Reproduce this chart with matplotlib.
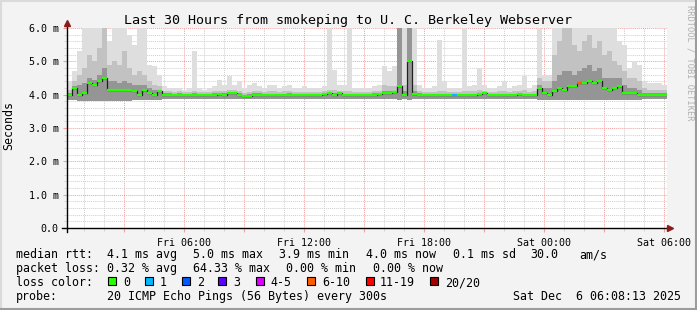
import numpy as np
import matplotlib
matplotlib.use('Agg')
import matplotlib.pyplot as plt
from matplotlib.lines import Line2D
from matplotlib.patches import Rectangle

# time axis: hours since Fri 00:00, one bin = 15 min, start Fri 00:08:13
start_h = 0.137
step_h = 0.25

# median rtt (ms) per bin
median = [3.98, 4.2, 4.0, 4.05, 4.35, 4.3, 4.4, 4.5, 4.15, 4.15, 4.15, 4.15, 4.15, 4.1, 4.0, 4.15, 4.05, 4.0, 4.1, 4.0,
          4.0, 3.98, 4.0, 4.0, 3.98, 4.0, 4.0, 3.98, 4.0, 4.0, 4.02, 4.0, 4.05, 4.05, 4.0, 3.97, 3.97, 4.0, 4.0, 4.0,
          3.98, 4.0, 3.98, 4.0, 4.0, 3.98, 4.0, 4.0, 3.98, 4.0, 4.0, 4.02, 4.05, 4.0, 4.05, 3.98, 4.0, 3.98, 3.98, 4.0,
          3.98, 4.0, 4.02, 4.05, 4.05, 4.08, 4.25, 4.0, 5.0, 4.02, 4.0, 4.0, 3.98, 3.98, 4.0, 4.0, 3.98, 4.0, 3.98, 4.0,
          4.0, 3.98, 4.02, 4.05, 4.0, 3.98, 4.0, 4.0, 3.98, 4.0, 4.02, 4.0, 3.98, 4.0, 4.2, 4.05, 4.0, 4.1, 4.2, 4.15,
          4.25, 4.25, 4.35, 4.35, 4.4, 4.35, 4.4, 4.2, 4.15, 4.2, 4.25, 4.05, 4.05, 4.05, 4.0, 3.98, 4.0, 3.98, 3.98, 3.98]

# smoke: slowest ping, ~90th, ~70th percentile and fastest ping (ms)
smoke_max = [4.4, 4.7, 5.3, 6.0, 6.0, 6.0, 6.0, 6.0, 5.6, 6.0, 6.0, 6.0, 5.8, 5.5, 6.0, 6.0, 4.9, 4.85, 4.6, 4.25,
             4.2, 4.2, 4.2, 4.15, 4.2, 5.3, 4.2, 4.15, 4.2, 4.25, 4.45, 4.3, 4.55, 4.3, 4.4, 4.2, 4.3, 4.35, 4.25, 4.2,
             4.3, 4.3, 4.2, 4.25, 4.3, 4.2, 4.2, 4.25, 4.2, 4.2, 4.2, 4.25, 6.0, 4.75, 4.3, 4.3, 6.0, 4.2, 4.2, 4.2,
             4.2, 4.25, 4.3, 4.85, 4.7, 4.85, 6.0, 6.0, 6.0, 6.0, 4.3, 4.2, 4.2, 4.25, 5.65, 4.4, 4.2, 4.2, 4.2, 6.0,
             4.25, 4.3, 4.8, 4.3, 4.2, 4.2, 4.25, 4.4, 4.2, 4.25, 4.3, 4.55, 4.2, 4.3, 6.0, 4.6, 4.6, 6.0, 6.0, 6.0,
             6.0, 6.0, 6.0, 6.0, 6.0, 6.0, 6.0, 6.0, 6.0, 6.0, 5.6, 5.5, 4.8, 5.0, 4.9, 4.4, 4.35, 4.35, 4.35, 4.3]
smoke_hi = [4.15, 4.4, 4.6, 4.8, 5.2, 5.0, 5.4, 6.0, 4.9, 5.0, 4.9, 5.3, 4.8, 4.6, 4.7, 4.6, 4.4, 4.3, 4.25, 4.1,
            4.1, 4.08, 4.1, 4.08, 4.08, 4.1, 4.08, 4.07, 4.08, 4.1, 4.12, 4.1, 4.15, 4.15, 4.1, 4.05, 4.08, 4.1, 4.1, 4.08,
            4.1, 4.1, 4.08, 4.1, 4.1, 4.08, 4.08, 4.08, 4.08, 4.07, 4.08, 4.1, 4.15, 4.15, 4.12, 4.1, 4.1, 4.08, 4.08, 4.08,
            4.08, 4.1, 4.12, 4.3, 4.25, 4.25, 6.0, 4.3, 6.0, 4.3, 4.12, 4.08, 4.08, 4.08, 4.1, 4.1, 4.08, 4.08, 4.08, 4.1,
            4.1, 4.1, 4.15, 4.12, 4.08, 4.08, 4.1, 4.12, 4.08, 4.1, 4.12, 4.15, 4.08, 4.1, 4.5, 4.4, 4.4, 5.2, 5.6, 6.0,
            6.0, 5.5, 5.3, 5.6, 5.8, 5.4, 5.6, 5.2, 5.3, 5.0, 4.9, 4.7, 4.5, 4.5, 4.4, 4.2, 4.15, 4.15, 4.15, 4.15]
smoke_mid = [4.05, 4.25, 4.3, 4.35, 4.5, 4.45, 4.6, 4.8, 4.4, 4.4, 4.35, 4.4, 4.35, 4.3, 4.3, 4.3, 4.2, 4.15, 4.15, 4.05,
             4.05, 4.03, 4.05, 4.03, 4.03, 4.05, 4.03, 4.02, 4.03, 4.05, 4.05, 4.05, 4.08, 4.08, 4.05, 4.0, 4.02, 4.05, 4.04, 4.03,
             4.03, 4.03, 4.03, 4.03, 4.04, 4.03, 4.03, 4.03, 4.03, 4.02, 4.03, 4.05, 4.08, 4.05, 4.07, 4.03, 4.03, 4.02, 4.02, 4.03,
             4.03, 4.04, 4.05, 4.1, 4.1, 4.12, 6.0, 4.1, 6.0, 4.1, 4.05, 4.03, 4.03, 4.03, 4.03, 4.03, 4.02, 4.03, 4.02, 4.03,
             4.03, 4.03, 4.05, 4.07, 4.03, 4.02, 4.03, 4.03, 4.02, 4.03, 4.05, 4.03, 4.02, 4.03, 4.3, 4.2, 4.2, 4.4, 4.6, 4.7,
             4.7, 4.6, 4.7, 4.8, 4.9, 4.7, 4.8, 4.5, 4.5, 4.5, 4.5, 4.3, 4.2, 4.2, 4.15, 4.05, 4.05, 4.05, 4.05, 4.05]
smoke_min = [3.85, 3.85, 3.82, 3.82, 3.82, 3.82, 3.8, 3.8, 3.82, 3.82, 3.82, 3.82, 3.82, 3.85, 3.85, 3.85, 3.85, 3.85, 3.85, 3.87,
             3.88, 3.88, 3.88, 3.87, 3.88, 3.88, 3.88, 3.87, 3.88, 3.88, 3.87, 3.88, 3.88, 3.87, 3.88, 3.87, 3.87, 3.88, 3.88, 3.88,
             3.88, 3.88, 3.87, 3.88, 3.88, 3.87, 3.88, 3.88, 3.87, 3.88, 3.88, 3.88, 3.87, 3.88, 3.88, 3.87, 3.88, 3.87, 3.87, 3.88,
             3.87, 3.88, 3.88, 3.86, 3.86, 3.86, 3.85, 3.86, 3.85, 3.87, 3.88, 3.88, 3.87, 3.87, 3.88, 3.88, 3.87, 3.88, 3.87, 3.88,
             3.88, 3.87, 3.87, 3.87, 3.88, 3.87, 3.88, 3.88, 3.87, 3.88, 3.88, 3.87, 3.87, 3.87, 3.83, 3.85, 3.85, 3.83, 3.83, 3.83,
             3.83, 3.83, 3.83, 3.83, 3.83, 3.83, 3.83, 3.83, 3.83, 3.83, 3.83, 3.84, 3.85, 3.85, 3.85, 3.87, 3.87, 3.87, 3.87, 3.87]

# lost pings (of 20) for bins that had loss
lost_pings = {77: 1, 102: 8}

loss_labels = ['0', '1', '2', '3', '4-5', '6-10', '11-19', '20/20']
loss_limits = [0, 1, 2, 3, 5, 10, 19, 20]
loss_colors = ['#26ff00', '#00b8ff', '#0059ff', '#5e00ff', '#dd00ff', '#ff5e00', '#ff0000', '#a00000']

x_ticks = [6, 12, 18, 24, 30]
x_labels = ['Fri 06:00', 'Fri 12:00', 'Fri 18:00', 'Sat 00:00', 'Sat 06:00']
y_ticks = [0, 1, 2, 3, 4, 5, 6]
y_labels = ['0.0', '1.0 m', '2.0 m', '3.0 m', '4.0 m', '5.0 m', '6.0 m']

W, H = 697, 310
def fx(x):
    return x / W
def fy(y):
    return 1 - y / H

plt.rcParams['font.family'] = 'DejaVu Sans Mono'
fig = plt.figure(figsize=(W / 100, H / 100), dpi=100, facecolor='#f3f3f3')
ax = fig.add_axes([fx(67), fy(228), 600 / W, 200 / H])
ax.set_facecolor('white')

n = len(median)
edges = start_h + step_h * np.arange(n + 1)
def ext(a):
    return np.append(a, a[-1])

ax.fill_between(edges, ext(smoke_min), ext(smoke_max), step='post', color='#dedede', lw=0)
ax.fill_between(edges, ext(smoke_min), ext(smoke_hi), step='post', color='#c2c2c2', lw=0)
ax.fill_between(edges, ext(smoke_min), ext(smoke_mid), step='post', color='#959595', lw=0)

# median: dark connectors + loss coloured segments
ax.step(edges, ext(median), where='post', color='#202020', lw=0.9)
for i in range(n):
    lost = lost_pings.get(i, 0)
    c = loss_colors[next(k for k, lim in enumerate(loss_limits) if lost <= lim)]
    ax.plot([edges[i], edges[i + 1]], [median[i], median[i]], color=c, lw=1.6, solid_capstyle='butt')

ax.set_xlim(start_h, start_h + step_h * n)
ax.set_ylim(0, 6.0)
for s in ax.spines.values():
    s.set_visible(False)

ax.set_xticks(np.arange(3, 31, 3))
ax.set_xticklabels([x_labels[x_ticks.index(t)] if t in x_ticks else '' for t in range(3, 31, 3)])
ax.set_xticks(np.arange(1, 31, 1), minor=True)
ax.set_yticks(y_ticks)
ax.set_yticklabels(y_labels)
ax.set_yticks(np.arange(0, 6.01, 0.2), minor=True)
ax.grid(which='minor', color='#cfcfcf', linestyle=(0, (1, 1)), lw=0.7)
ax.grid(which='major', color='#f0a0a0', linestyle=(0, (1, 1)), lw=0.7)
ax.set_axisbelow(True)
ax.tick_params(which='major', length=3, color='#f0a0a0', labelsize=7.2, pad=3)
ax.tick_params(which='minor', length=2, color='#cfcfcf')
ax.tick_params(axis='x', pad=4)

# axes with arrows
fig.add_artist(Line2D([fx(62), fx(668)], [fy(228), fy(228)], color='black', lw=1))
fig.add_artist(Line2D([fx(67), fx(67)], [fy(232), fy(25)], color='black', lw=1))
fig.add_artist(Line2D([fx(670)], [fy(228)], marker='>', ms=4, color='#8b1a1a', lw=0))
fig.add_artist(Line2D([fx(67)], [fy(23)], marker='^', ms=4, color='#8b1a1a', lw=0))

fig.text(fx(348), fy(24), 'Last 30 Hours from smokeping to U. C. Berkeley Webserver',
         ha='center', va='baseline', fontsize=9.6)
fig.text(fx(9), fy(125), 'Seconds', rotation=90, ha='center', va='center', fontsize=8.4)
fig.text(fx(690), fy(5), 'RRDTOOL / TOBI OETIKER', rotation=270, ha='center', va='top',
         fontsize=6.2, color='#b0b0b0')

fs = 8.4
rows = [
    (258, [(16, 'median rtt:'), (107, '4.1 ms avg'), (193, '5.0 ms max'), (279, '3.9 ms min'),
           (366, '4.0 ms now'), (453, '0.1 ms sd'), (530, '30.0'), (579, 'am/s')]),
    (272, [(16, 'packet loss:'), (107, '0.32 % avg'), (193, '64.33 % max'), (286, '0.00 % min'),
           (373, '0.00 % now')]),
    (286, [(16, 'loss color:')]),
    (300, [(16, 'probe:'), (107, '20 ICMP Echo Pings (56 Bytes) every 300s'),
           (513, 'Sat Dec  6 06:08:13 2025')]),
]
for yb, items in rows:
    for xp, s in items:
        fig.text(fx(xp), fy(yb), s, ha='left', va='baseline', fontsize=fs)

box_x = [108, 145, 182, 218, 256, 307, 366, 430]
text_x = [123, 160, 197, 233, 270, 322, 380, 445]
for bx, tx, lab, c in zip(box_x, text_x, loss_labels, loss_colors):
    fig.add_artist(Rectangle((fx(bx), fy(285)), 8 / W, 8 / H, facecolor=c, edgecolor='black', lw=0.8))
    fig.text(fx(tx), fy(286), lab, ha='left', va='baseline', fontsize=fs)

# 3d frame
fig.add_artist(Line2D([0, 1], [fy(1), fy(1)], color='#dadada', lw=1.5))
fig.add_artist(Line2D([fx(1), fx(1)], [0, 1], color='#dadada', lw=1.5))
fig.add_artist(Line2D([0, 1], [fy(309), fy(309)], color='#9c9c9c', lw=1.5))
fig.add_artist(Line2D([fx(696), fx(696)], [0, 1], color='#9c9c9c', lw=1.5))

fig.savefig('out.png', dpi=100, facecolor=fig.get_facecolor())
